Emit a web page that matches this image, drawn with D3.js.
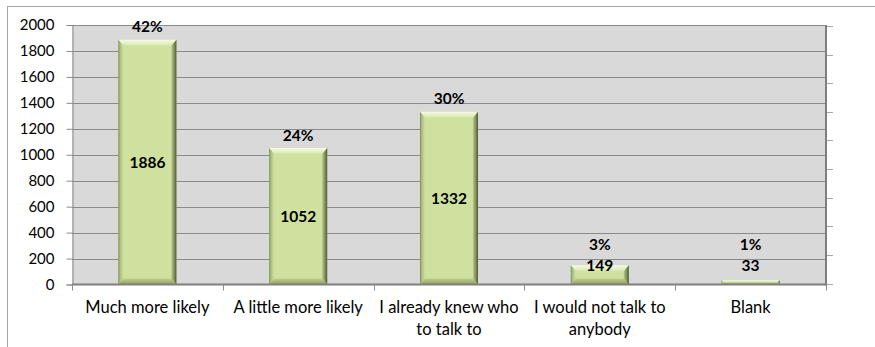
<!DOCTYPE html>
<html>
<head>
<meta charset="utf-8">
<script src="https://cdn.jsdelivr.net/npm/d3@7/dist/d3.min.js"></script>
<style>
  html, body { margin: 0; padding: 0; background: #ffffff; }
  svg { display: block; }
</style>
</head>
<body>
<svg id="chart" width="875" height="347"></svg>
<script>
// Survey responses: counts per answer and their share of the total
const categories = ["Much more likely", "A little more likely", "I already knew who to talk to", "I would not talk to anybody", "Blank"];
const categoryLines = [["Much more likely"], ["A little more likely"], ["I already knew who", "to talk to"], ["I would not talk to", "anybody"], ["Blank"]];
const counts = [1886, 1052, 1332, 149, 33];
const percentLabels = ["42%", "24%", "30%", "3%", "1%"];
const yTicks = [0, 200, 400, 600, 800, 1000, 1200, 1400, 1600, 1800, 2000];
const rightTickCount = 9;

const svg = d3.select("#chart");
const plot = { left: 72, right: 826, top: 25, bottom: 284.5 };
const FONT = "Lato, 'Open Sans', sans-serif";

// Outer chart frame
svg.append("rect")
  .attr("x", 7.5).attr("y", 6.5)
  .attr("width", 900).attr("height", 400)
  .attr("fill", "#ffffff")
  .attr("stroke", "#a6a6a6").attr("stroke-width", 1);

const y = d3.scaleLinear().domain([0, 2000]).range([plot.bottom, plot.top]);
const x = d3.scaleBand().domain(categories)
  .range([plot.left, plot.right])
  .paddingInner(0.615).paddingOuter(0.3075);
const step = (plot.right - plot.left) / categories.length;

// Plot area background
svg.append("rect")
  .attr("x", plot.left).attr("y", plot.top)
  .attr("width", plot.right - plot.left).attr("height", plot.bottom - plot.top)
  .attr("fill", "#d9d9d9");

// Horizontal gridlines
svg.append("g").selectAll("line").data(yTicks.filter(d => d > 0)).join("line")
  .attr("x1", plot.left).attr("x2", plot.right)
  .attr("y1", d => Math.round(y(d)) + 0.5).attr("y2", d => Math.round(y(d)) + 0.5)
  .attr("stroke", "#8a8a8a").attr("stroke-width", 1);

// Left value axis
const yAxis = d3.axisLeft(y).tickValues(yTicks).tickFormat(d3.format("d")).tickSize(6).tickPadding(12);
const gy = svg.append("g").attr("transform", `translate(${plot.left + 0.5},0)`).call(yAxis);
gy.select(".domain").attr("stroke", "#8c8c8c");
gy.selectAll(".tick line").attr("stroke", "#8c8c8c");
gy.selectAll(".tick text")
  .attr("font-family", FONT).attr("font-size", "15px").attr("fill", "#000");

// Right secondary axis (unlabelled)
const yRight = d3.scaleLinear().domain([0, rightTickCount]).range([283.5, 26]);
const gr = svg.append("g").attr("transform", `translate(${plot.right},0)`);
gr.selectAll("line.tk").data(d3.range(rightTickCount + 1)).join("line")
  .attr("class", "tk")
  .attr("x1", 0).attr("x2", 7)
  .attr("y1", d => Math.round(yRight(d)) + 0.5).attr("y2", d => Math.round(yRight(d)) + 0.5)
  .attr("stroke", "#a6a6a6");
gr.append("line")
  .attr("x1", 0).attr("x2", 0)
  .attr("y1", plot.top).attr("y2", plot.bottom + 1)
  .attr("stroke", "#7f7f7f").attr("stroke-width", 2);

// Bars with a bevelled edge
const defs = svg.append("defs");
function grad(id, x1, y1, x2, y2, stops) {
  const g = defs.append("linearGradient").attr("id", id)
    .attr("x1", x1).attr("y1", y1).attr("x2", x2).attr("y2", y2);
  stops.forEach(s => g.append("stop").attr("offset", s[0]).attr("stop-color", s[1]));
}
grad("bevTop", 0, 0, 0, 1, [[0, "#f7fbe6"], [1, "#d6e6aa"]]);
grad("bevLeft", 0, 0, 1, 0, [[0, "#7d8b55"], [0.35, "#aebd80"], [1, "#cfe09f"]]);
grad("bevRight", 0, 0, 1, 0, [[0, "#b6c689"], [0.6, "#7c8a55"], [1, "#4f5934"]]);
grad("bevBottom", 0, 0, 0, 1, [[0, "#bfd08d"], [1, "#8e9d63"]]);

const bars = svg.append("g").selectAll("g.bar").data(categories).join("g").attr("class", "bar");
bars.each(function (c, i) {
  const g = d3.select(this);
  const x0 = x(c), x1 = x(c) + x.bandwidth();
  const y0 = y(counts[i]), y1 = y(0);
  const b = Math.min(6, (y1 - y0) / 2);
  const bs = Math.min(5, (y1 - y0) / 2);
  g.append("rect").attr("x", x0).attr("y", y0).attr("width", x1 - x0).attr("height", y1 - y0)
    .attr("fill", "#cfe09f");
  g.append("polygon").attr("points", [[x0, y0], [x1, y0], [x1 - bs, y0 + b], [x0 + bs, y0 + b]].join(" "))
    .attr("fill", "url(#bevTop)");
  g.append("polygon").attr("points", [[x0, y1], [x0 + bs, y1 - b], [x1 - bs, y1 - b], [x1, y1]].join(" "))
    .attr("fill", "url(#bevBottom)");
  g.append("polygon").attr("points", [[x0, y0], [x0 + bs, y0 + b], [x0 + bs, y1 - b], [x0, y1]].join(" "))
    .attr("fill", "url(#bevLeft)");
  g.append("polygon").attr("points", [[x1, y0], [x1 - bs, y0 + b], [x1 - bs, y1 - b], [x1, y1]].join(" "))
    .attr("fill", "url(#bevRight)");
});

// Category axis
svg.append("line")
  .attr("x1", plot.left).attr("x2", plot.right + 1)
  .attr("y1", plot.bottom).attr("y2", plot.bottom)
  .attr("stroke", "#7f7f7f").attr("stroke-width", 2);
svg.append("g").selectAll("line").data(d3.range(categories.length + 1)).join("line")
  .attr("x1", d => Math.round(plot.left + d * step) + 0.5)
  .attr("x2", d => Math.round(plot.left + d * step) + 0.5)
  .attr("y1", plot.bottom).attr("y2", plot.bottom + 6)
  .attr("stroke", "#8c8c8c");

const xl = svg.append("g").selectAll("text").data(categories).join("text")
  .attr("x", c => x(c) + x.bandwidth() / 2)
  .attr("y", 313)
  .attr("text-anchor", "middle")
  .attr("font-family", FONT).attr("font-size", "16.5px").attr("fill", "#000");
xl.each(function (c, i) {
  d3.select(this).selectAll("tspan").data(categoryLines[i]).join("tspan")
    .attr("x", x(c) + x.bandwidth() / 2)
    .attr("dy", (d, k) => k === 0 ? 0 : 21.5)
    .text(d => d);
});

// Data labels: count inside the bar, share above it
const countY = i => Math.min((y(counts[i]) + y(0)) / 2, y(0) - 19);
const pctY = i => Math.min(y(counts[i]) - 13, countY(i) - 21);

svg.append("g").selectAll("text").data(categories).join("text")
  .attr("x", c => x(c) + x.bandwidth() / 2)
  .attr("y", (c, i) => countY(i))
  .attr("dy", "0.36em")
  .attr("text-anchor", "middle")
  .attr("font-family", FONT).attr("font-weight", "bold").attr("font-size", "15.5px").attr("fill", "#000")
  .text((c, i) => counts[i]);

svg.append("g").selectAll("text").data(categories).join("text")
  .attr("x", c => x(c) + x.bandwidth() / 2)
  .attr("y", (c, i) => pctY(i))
  .attr("dy", "0.36em")
  .attr("text-anchor", "middle")
  .attr("font-family", FONT).attr("font-weight", "bold").attr("font-size", "15.5px").attr("fill", "#000")
  .text((c, i) => percentLabels[i]);
</script>
</body>
</html>
